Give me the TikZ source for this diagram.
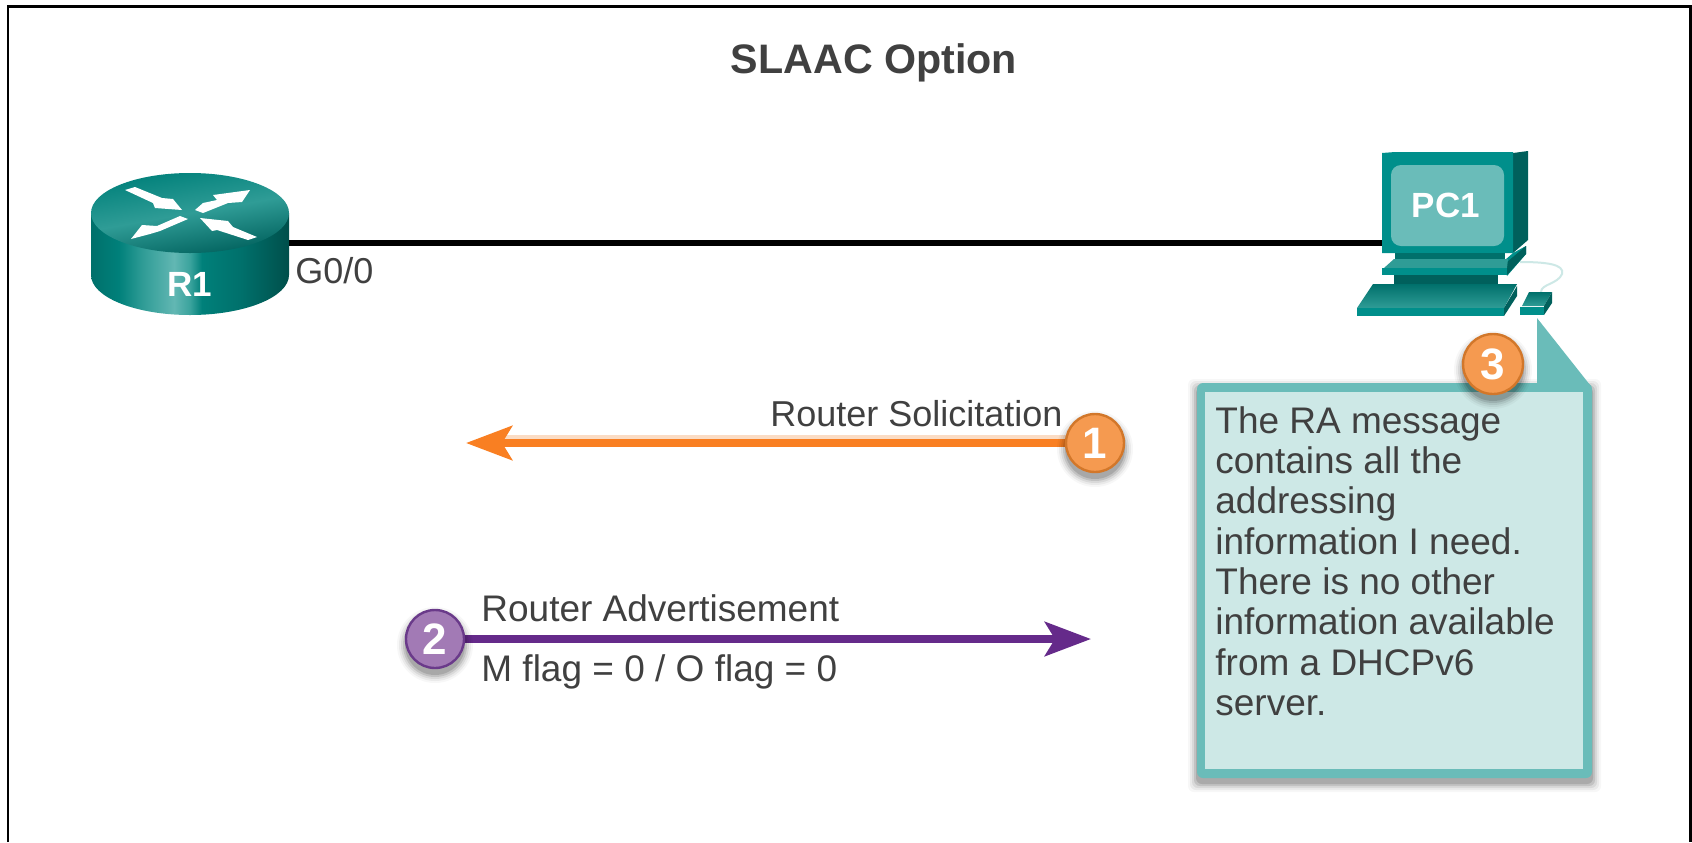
\documentclass[tikz,border=0pt]{standalone}
\usepackage{fontspec}
\setmainfont{Liberation Sans}
\usetikzlibrary{arrows.meta}
\definecolor{inkgrey}{HTML}{404040}
\definecolor{tealbright}{HTML}{008F8B}
\definecolor{tealdark}{HTML}{00706B}
\definecolor{tealdeep}{HTML}{00605C}
\definecolor{teallight}{HTML}{2F9C96}
\definecolor{tealmid}{HTML}{00807A}
\definecolor{tealhi}{HTML}{62B7B3}
\definecolor{tealhib}{HTML}{3AA39D}
\definecolor{tealrim}{HTML}{004F4B}
\definecolor{tealscreen}{HTML}{6ABCB9}
\definecolor{calloutfill}{HTML}{CDE8E6}
\definecolor{orangecirc}{HTML}{F59A50}
\definecolor{orangeedge}{HTML}{D2772A}
\definecolor{orangeline}{HTML}{F97F22}
\definecolor{orangepale}{HTML}{FBDCC4}
\definecolor{purplecirc}{HTML}{A27AB5}
\definecolor{purpleedge}{HTML}{6A3A8A}
\definecolor{purpleline}{HTML}{652A8A}
\pgfdeclarehorizontalshading{routerside}{100bp}{
  color(0bp)=(tealdark);
  color(25bp)=(tealdark);
  color(32bp)=(tealmid);
  color(38bp)=(teallight);
  color(46bp)=(tealhi);
  color(50bp)=(tealhib);
  color(53bp)=(tealmid);
  color(63bp)=(tealdark);
  color(75bp)=(tealrim);
  color(100bp)=(tealrim)}
\tikzset{
  px/.style={x=0.5pt,y=-0.5pt},
  labeltext/.style={anchor=base west,inner sep=0pt,text=inkgrey,font=\fontsize{18}{20}\selectfont},
  widelabel/.style={labeltext,font=\fontsize{18.5}{20}\selectfont},
  devtext/.style={inner sep=0pt,text=white,font=\bfseries\fontsize{17.5}{20}\selectfont},
  numbadge/.style={circle,minimum size=29pt,inner sep=0pt,line width=1.2pt,text=white,font=\bfseries\fontsize{22}{24}\selectfont},
  flowline/.style={line width=4pt},
  flowtip/.style={-{Stealth[length=23pt,width=17pt,inset=5pt]}},
  anchorbox/.style={inner sep=0pt,minimum width=#1,minimum height=4pt}
}
\newcommand{\softshadow}[3]{% x, y, radius (px)
  \foreach \gr/\op in {9/0.03,7/0.05,5/0.07,3/0.10,1/0.13}{
    \fill[black,opacity=\op] (#1,#2+6) circle[radius=#3+\gr];
  }}
\begin{document}
\begin{tikzpicture}[px]
\useasboundingbox (0,0) rectangle (1692,842);
\fill[white] (0,0) rectangle (1692,842);
% frame, open at the bottom
\draw[black,line width=1.1pt] (8,842) -- (8,6.5) -- (1690.5,6.5) -- (1690.5,842);

\node[font=\bfseries\fontsize{20.6}{24}\selectfont,text=inkgrey,anchor=base,inner sep=0pt] (title) at (874,73) {SLAAC Option};

% device anchors and the link
\node[anchorbox=98pt] (r1) at (190,243) {};
\node[anchorbox=73pt] (pc1) at (1455,243) {};
\draw[black,line width=3pt] (r1.east) -- (pc1.west);

% router
\path[shading=routerside] (91,213) -- (91,275) arc[start angle=180,end angle=0,x radius=99,y radius=40] -- (289,213) -- cycle;
\path[top color=tealmid,bottom color=tealdeep,middle color=teallight,shading angle=10] (190,213) ellipse[x radius=99,y radius=40];
\fill[white] (125,190) -- (135,187) -- (162,198) -- (173,199) -- (182,210) -- (155,208) -- (153,203) -- cycle;
\fill[white] (195,210) -- (203,203) -- (217,200) -- (213,195) -- (250,190) -- (242,202) -- (228,203) -- (203,213) -- cycle;
\fill[white] (131,239) -- (142,225) -- (157,226) -- (180,216) -- (188,219) -- (160,231) -- (150,234) -- cycle;
\fill[white] (200,218) -- (228,221) -- (233,227) -- (257,237) -- (248,240) -- (217,230) -- (212,231) -- cycle;
\node[devtext] (r1label) at (190,284) {R1};
\node[labeltext] (g00) at (295,283) {G0/0};

% PC: monitor
\fill[tealdeep] (1513,153) -- (1528,151) -- (1528,240) -- (1513,253) -- cycle;
\fill[tealbright] (1382,153) -- (1395,152) -- (1513,152) -- (1513,253) -- (1382,253) -- cycle;
\fill[tealscreen,rounded corners=5pt] (1391,165) rectangle (1504,246);
\node[devtext] (pclabel) at (1446,205) {PC1};
% PC: stand
\fill[tealdark] (1395,253) rectangle (1505,260);
\fill[tealbright] (1513,253) -- (1526,246) -- (1526,254) -- (1507,276) -- (1505,260) -- cycle;
\fill[tealdeep] (1507,275) -- (1526,254) -- (1526,246) -- (1507,262) -- cycle;
\fill[teallight] (1394,259) -- (1508,259) -- (1507,268) -- (1384,268) -- cycle;
\fill[tealbright] (1382,268) rectangle (1507,275);
\fill[tealdeep] (1394,275) rectangle (1498,284);
% PC: keyboard
\path[top color=tealdark,bottom color=teallight] (1373,284) -- (1517,284) -- (1504,308) -- (1357,308) -- cycle;
\fill[tealbright] (1357,308) rectangle (1504,316);
\fill[tealdeep] (1504,308) -- (1517,286) -- (1517,296) -- (1504,316) -- cycle;
% PC: mouse and cord
\draw[calloutfill,line width=1pt] (1520,262) .. controls (1545,262) and (1565,264) .. (1562,274) .. controls (1558,284) and (1541,284) .. (1541,292);
\path[top color=tealdark,bottom color=teallight] (1529,292) -- (1552,292) -- (1544,306) -- (1522,306) -- cycle;
\fill[tealdeep] (1552,292) -- (1552,303) -- (1544,315) -- (1544,306) -- cycle;
\fill[tealbright] (1520,307) -- (1544,307) -- (1544,315) -- (1520,315) -- cycle;

% flows
\coordinate (n1) at (1095,443);
\coordinate (n2) at (435,639);
\coordinate (t1) at (466,443);
\coordinate (t2) at (1091,639);
\coordinate (p1) at (1095,437);
\coordinate (p2) at (500,437);
\draw[orangepale,line width=2pt] (p1) -- (p2);
\draw[flowline,flowtip,orangeline] (n1) -- (t1);
\draw[flowline,flowtip,purpleline] (n2) -- (t2);
\softshadow{1095}{443}{29}
\softshadow{435}{639}{29}
\node[numbadge,fill=orangecirc,draw=orangeedge] (n1b) at (n1) {1};
\node[numbadge,fill=purplecirc,draw=purpleedge] (n2b) at (n2) {2};

\node[labeltext] (rs) at (770,426) {Router Solicitation};
\node[widelabel] (ra) at (481,621) {Router Advertisement};
\node[widelabel] (mf) at (481,681) {M flag = 0 / O flag = 0};

% callout
\foreach \gr/\op in {9/0.03,7/0.05,5/0.07,3/0.10,1/0.12}{
  \fill[black,opacity=\op,rounded corners=3pt] (1197-\gr,388-\gr) rectangle (1592+\gr,783+\gr);
}
\fill[tealscreen,rounded corners=3pt] (1197,383) rectangle (1592,778);
\fill[tealscreen] (1537,318) -- (1537,385) -- (1590,385) -- cycle;
\fill[calloutfill] (1205,392) rectangle (1583,769);
\node[anchor=north west,inner sep=0pt,align=left,text=inkgrey,font=\fontsize{18.5}{20.15}\selectfont] (calltext) at (1215,406) {The RA message\\contains all the\\addressing\\information I need.\\There is no other\\information available\\from a DHCPv6\\server.};
\softshadow{1493}{364}{30}
\node[numbadge,minimum size=30pt,fill=orangecirc,draw=orangeedge] (n3) at (1493,364) {3};
\end{tikzpicture}
\end{document}
